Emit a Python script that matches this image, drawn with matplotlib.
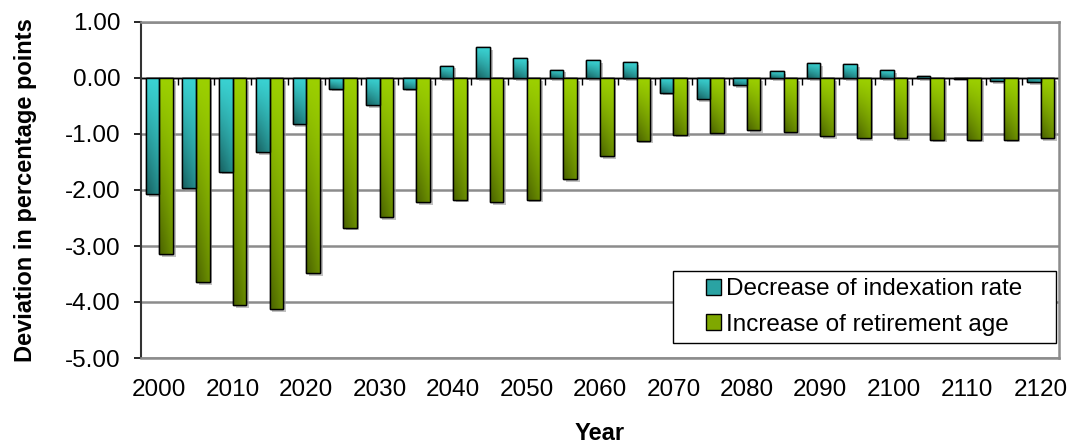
import numpy as np
import matplotlib
matplotlib.use("Agg")
import matplotlib.pyplot as plt
from matplotlib.patches import Patch, Rectangle
from matplotlib import patheffects as pe
from matplotlib.colors import LinearSegmentedColormap

years = [2000, 2005, 2010, 2015, 2020, 2025, 2030, 2035, 2040, 2045, 2050, 2055, 2060,
         2065, 2070, 2075, 2080, 2085, 2090, 2095, 2100, 2105, 2110, 2115, 2120]
indexation = [-2.08, -1.96, -1.67, -1.32, -0.83, -0.19, -0.49, -0.19, 0.22, 0.55, 0.35, 0.15, 0.32,
              0.28, -0.26, -0.38, -0.13, 0.12, 0.27, 0.25, 0.14, 0.04, -0.01, -0.05, -0.08]
retirement = [-3.14, -3.64, -4.06, -4.13, -3.49, -2.67, -2.49, -2.22, -2.17, -2.22, -2.17, -1.81, -1.39,
              -1.12, -1.01, -0.99, -0.93, -0.97, -1.04, -1.07, -1.08, -1.10, -1.10, -1.10, -1.08]
series_names = ["Decrease of indexation rate", "Increase of retirement age"]
ytick_vals = [1.0, 0.0, -1.0, -2.0, -3.0, -4.0, -5.0]

teal_light, teal_dark, teal_mid = "#3AD2D2", "#175F5F", "#2AA3A3"
green_light, green_dark, green_mid = "#9CD000", "#4A6200", "#7FA800"

plt.rcParams['font.family'] = ['Liberation Sans', 'DejaVu Sans']

fig = plt.figure(figsize=(10.74, 4.43), dpi=100)
ax = fig.add_axes([141/1074, 1 - 358/443, 918/1074, 336/443])

x = np.arange(len(years))
w = 0.37
shadow = [pe.SimplePatchShadow(offset=(2, -2), shadow_rgbFace='#999999', alpha=0.6), pe.Normal()]
b1 = ax.bar(x - w/2, indexation, w, color=teal_mid, edgecolor='black', linewidth=1.0, zorder=3,
            path_effects=shadow)
b2 = ax.bar(x + w/2, retirement, w, color=green_mid, edgecolor='black', linewidth=1.0, zorder=3,
            path_effects=shadow)

def grad_fill(bars, light, dark):
    cmap = LinearSegmentedColormap.from_list("g", [dark, light])
    ny, nx = 40, 20
    yy, xx = np.mgrid[0:1:ny*1j, 0:1:nx*1j]
    for bar in bars:
        bx, by = bar.get_x(), bar.get_y()
        bw, bh = bar.get_width(), bar.get_height()
        top = by + bh if bh >= 0 else by
        bot = by if bh >= 0 else by + bh
        val = 1 - (0.6 * yy ** 1.2 + 0.4 * (1 - xx) * yy)
        im = ax.imshow(val, cmap=cmap, vmin=0, vmax=1, aspect='auto',
                       extent=[bx, bx + bw, bot, top], origin='upper', zorder=3.5,
                       interpolation='bilinear')
        im.set_clip_path(bar)
        ax.add_patch(Rectangle((bx, by), bw, bh, fill=False, edgecolor='black',
                               linewidth=1.0, zorder=4))

grad_fill(b1, teal_light, teal_dark)
grad_fill(b2, green_light, green_dark)

ax.set_xlim(-0.5, len(years) - 0.5)
ax.set_ylim(-5, 1)
ax.set_yticks(ytick_vals)
ax.set_yticklabels([f"{v:.2f}" for v in ytick_vals], fontsize=17.5)
ax.grid(axis='y', color='#8c8c8c', linewidth=1.8, zorder=0)
ax.set_axisbelow(True)

ax.axhline(0, color='black', linewidth=0.9, zorder=2)
bounds = np.arange(len(years) + 1) - 0.5
ax.vlines(bounds[1:], -0.125, 0, color='black', linewidth=1.0, zorder=2)

ax.set_xticks(x[::2])
ax.set_xticklabels([str(y) for y in years[::2]], fontsize=17.5)
ax.tick_params(axis='x', length=0, pad=15)
ax.tick_params(axis='y', length=5, width=1.2, pad=10, direction='out', colors='black')

for s in ['top', 'right', 'bottom']:
    ax.spines[s].set_color('#8c8c8c')
    ax.spines[s].set_linewidth(1.8)
ax.spines['left'].set_color('#333333')
ax.spines['left'].set_linewidth(1.5)

ax.set_xlabel("Year", fontsize=17, fontweight='bold', labelpad=15)
ax.set_ylabel("Deviation in percentage points", fontsize=17, fontweight='bold', labelpad=20)

# legend frame (box) and centred legend content
x0, x1 = 0.5795, 0.9967
y0, y1 = 0.0446, 0.259
ax.add_patch(Rectangle((x0, y0), x1 - x0, y1 - y0, transform=ax.transAxes,
                       facecolor='white', edgecolor='black', linewidth=1.0, zorder=9))
handles = [Patch(facecolor=teal_mid, edgecolor='black', linewidth=1.0),
           Patch(facecolor=green_mid, edgecolor='black', linewidth=1.0)]
leg = ax.legend(handles, series_names, loc='center',
                bbox_to_anchor=((x0 + x1) / 2, (y0 + y1) / 2),
                borderaxespad=0, fontsize=17.5, frameon=False,
                handlelength=0.62, handleheight=0.62, handletextpad=0.2,
                labelspacing=0.55, borderpad=0.0)
leg.set_zorder(10)

fig.savefig("out.png", dpi=100)
